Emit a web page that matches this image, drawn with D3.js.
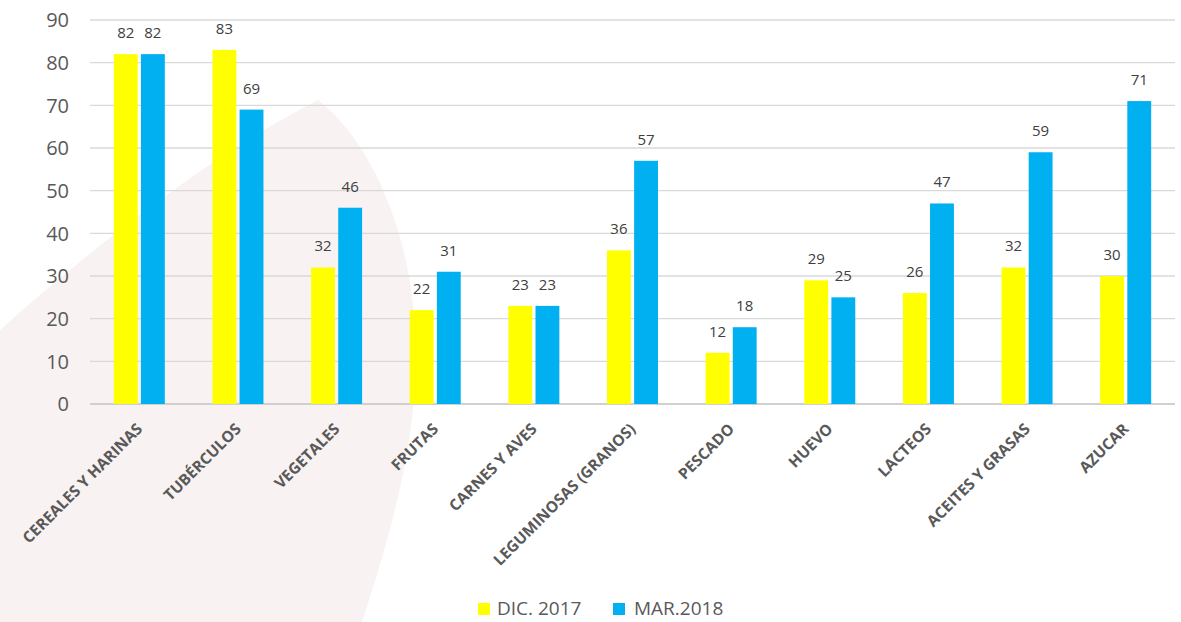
<!DOCTYPE html>
<html>
<head>
<meta charset="utf-8">
<script src="https://cdn.jsdelivr.net/npm/d3@7"></script>
<style>
  body { margin: 0; background: #fff; }
  svg { display: block; font-family: "Open Sans", sans-serif; }
</style>
</head>
<body>
<svg width="1181" height="622"></svg>
<script>
// categories and values
const categories = ['CEREALES Y HARINAS', 'TUBÉRCULOS', 'VEGETALES', 'FRUTAS', 'CARNES Y AVES',
  'LEGUMINOSAS (GRANOS)', 'PESCADO', 'HUEVO', 'LACTEOS', 'ACEITES Y GRASAS', 'AZUCAR'];
const dic2017 = [82, 83, 32, 22, 23, 36, 12, 29, 26, 32, 30];
const mar2018 = [82, 69, 46, 31, 23, 57, 18, 25, 47, 59, 71];
const seriesNames = ['DIC. 2017', 'MAR.2018'];
const colors = ['#ffff00', '#00b0f0'];
const yTicks = [0, 10, 20, 30, 40, 50, 60, 70, 80, 90];

const svg = d3.select('svg');
const plotLeft = 90, plotRight = 1175, plotTop = 20, plotBottom = 404;

// faint watermark behind the plot
svg.append('path')
  .attr('d', 'M318,100 C370,140 410,230 415,330 C420,430 395,520 362,622 L0,622 L0,330 C100,240 220,150 318,100 Z')
  .attr('fill', '#f8f2f2');

const x = d3.scaleBand().domain(categories).range([plotLeft, plotRight]);
const xs = d3.scaleBand().domain(seriesNames).range([0, 51]).paddingInner(0.12);
const y = d3.scaleLinear().domain([0, 90]).range([plotBottom, plotTop]);

// gridlines
svg.append('g')
  .selectAll('line')
  .data(yTicks)
  .enter()
  .append('line')
  .attr('x1', plotLeft)
  .attr('x2', plotRight)
  .attr('y1', d => y(d))
  .attr('y2', d => y(d))
  .attr('stroke', d => d === 0 ? '#d0d0d0' : '#d9d9d9')
  .attr('stroke-width', d => d === 0 ? 2 : 1.3);

// y labels
svg.append('g')
  .selectAll('text')
  .data(yTicks)
  .enter()
  .append('text')
  .attr('x', 69)
  .attr('y', d => y(d))
  .attr('dy', '0.36em')
  .attr('text-anchor', 'end')
  .attr('font-size', 20)
  .attr('fill', '#595959')
  .text(d => d);

const series = [dic2017, mar2018];
const groups = svg.append('g');

series.forEach((vals, si) => {
  const name = seriesNames[si];
  const g = groups.append('g');
  g.selectAll('rect')
    .data(categories)
    .enter()
    .append('rect')
    .attr('x', (d, i) => x(d) + (x.bandwidth() - 51) / 2 + xs(name))
    .attr('width', xs.bandwidth())
    .attr('y', (d, i) => y(vals[i]))
    .attr('height', (d, i) => plotBottom - y(vals[i]))
    .attr('fill', colors[si]);

  g.selectAll('text')
    .data(categories)
    .enter()
    .append('text')
    .attr('x', (d, i) => x(d) + (x.bandwidth() - 51) / 2 + xs(name) + xs.bandwidth() / 2)
    .attr('y', (d, i) => y(vals[i]) - 16)
    .attr('text-anchor', 'middle')
    .attr('font-size', 15)
    .attr('fill', '#404040')
    .text((d, i) => vals[i]);
});

// category labels, rotated
svg.append('g')
  .selectAll('text')
  .data(categories)
  .enter()
  .append('text')
  .attr('transform', d => `translate(${x(d) + x.bandwidth() / 2 + 4},${plotBottom + 26}) rotate(-45)`)
  .attr('text-anchor', 'end')
  .attr('font-size', 15.5)
  .attr('font-weight', 'bold')
  .attr('fill', '#595959')
  .text(d => d);

// legend
const legend = svg.append('g').attr('transform', 'translate(478,608)');
const lx = [0, 135];
seriesNames.forEach((n, i) => {
  legend.append('rect')
    .attr('x', lx[i])
    .attr('y', -5)
    .attr('width', 12)
    .attr('height', 12)
    .attr('fill', colors[i]);
  legend.append('text')
    .attr('x', lx[i] + 19 + i * 2)
    .attr('y', 0)
    .attr('dy', '0.36em')
    .attr('font-size', 19)
    .attr('fill', '#595959')
    .text(n);
});
</script>
</body>
</html>
